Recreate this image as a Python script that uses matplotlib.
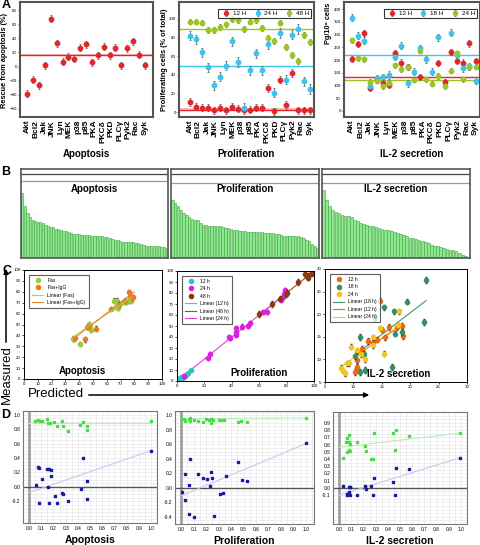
import numpy as np
import matplotlib.pyplot as plt
from matplotlib.patches import FancyArrowPatch

plt.rcParams["font.family"] = ["Liberation Sans", "DejaVu Sans"]

W, H = 481, 545
nan = np.nan

# ---------------- Panel A data ----------------
targets = ["Akt", "Bcl2", "Jak", "JNK", "Lyn", "MEK", "p38", "p85", "PKA",
           "PKCδ", "PKD", "PLCγ", "Pyk2", "Rac", "Syk"]

apop_rescue = [-39, -19, -27, 2, 68, 33, 7, 14, 11, 27, 32, 6, 16, 28, 16, 27, 2, 26, 36, 17, 2]
apop_line = 16

prolif_12h = [11, 6, 5, 5, 2, 5, 2, 6, 4, 2, 3, 5, 5, 26, 1, 35, 8, 42, 2, 2, 2]
prolif_24h = [82, 78, 64, 48, 29, 38, 50, 76, 54, 5, 45, 63, 45, 73, 21, 85, 35, 83, 89, 33, 25]
prolif_48h = [97, 97, 96, 88, 88, 91, 94, 100, 99, 89, 97, 99, 90, 80, 76, 96, 70, 61, 55, 83, 75]
prolif_lines = [3, 50, 89]  # 12 H, 24 H, 48 H

il2_12h = [203, 263, 307, 89, 125, 110, 102, 226, 190, 171, nan, 132, nan, nan, 187, 115, 233, 197, 190, 265, 197]
il2_18h = [367, 295, 276, 98, 128, 132, 141, 213, 256, 108, 154, 246, 203, 154, 289, nan, 307, 218, 167, 176, 118]
il2_24h = [278, 207, 203, 115, 118, 98, 111, 180, 163, 174, 122, 237, 125, 106, 137, 98, 158, 226, 124, 171, 174]
il2_lines = [135, 218, 123]  # 12 H, 18 H, 24 H

# ---------------- Panel B data (sorted bar heights) ----------------
bars_apop = [1.95, 1.55, 1.35, 1.23, 1.15, 1.10, 1.09, 1.07, 1.05, 1.00, 0.95, 0.93, 0.92, 0.88,
             0.87, 0.85, 0.82, 0.80, 0.77, 0.75, 0.73, 0.72, 0.71, 0.70, 0.69, 0.69, 0.68, 0.67,
             0.67, 0.66, 0.66, 0.65, 0.64, 0.63, 0.60, 0.57, 0.55, 0.53, 0.50, 0.48, 0.48, 0.48,
             0.47, 0.47, 0.46, 0.45, 0.43, 0.40, 0.37, 0.37, 0.37, 0.36, 0.35, 0.35, 0.34, 0.32, 0.30]
bars_prolif = [1.75, 1.65, 1.55, 1.45, 1.35, 1.30, 1.23, 1.17, 1.15, 1.15, 1.05, 1.00, 0.98, 0.97,
               0.97, 0.96, 0.95, 0.95, 0.93, 0.90, 0.90, 0.88, 0.85, 0.83, 0.82, 0.80, 0.80, 0.79,
               0.79, 0.78, 0.78, 0.77, 0.77, 0.76, 0.75, 0.75, 0.75, 0.73, 0.73, 0.70, 0.67, 0.67,
               0.65, 0.65, 0.65, 0.65, 0.63, 0.60, 0.55, 0.50, 0.43, 0.37, 0.30]
bars_il2 = [2.05, 1.75, 1.55, 1.45, 1.37, 1.35, 1.30, 1.25, 1.25, 1.23, 1.15, 1.10, 1.05, 1.03,
            1.00, 0.97, 0.95, 0.93, 0.90, 0.87, 0.85, 0.83, 0.80, 0.77, 0.75, 0.73, 0.70, 0.65,
            0.60, 0.59, 0.57, 0.55, 0.50, 0.47, 0.45, 0.40, 0.37, 0.35, 0.33, 0.30, 0.27, 0.25,
            0.23, 0.20, 0.15, 0.10, 0.05, 0.02]

# ---------------- Panel C data (predicted vs measured) ----------------
fas_pred = [36, 35.5, 40.3, 45.6, 47, 47.5, 48.8, 65, 67.4, 66.9, 68.3, 71.7, 73.6, 75, 77.8]
fas_meas = [36.6, 37, 32, 47.7, 50.7, 49, 45, 72, 72, 65.9, 65.3, 70.4, 70.4, 71.3, 72]
fasigg_pred = [36.7, 43.9, 46.4, 52.4, 63.3, 68.8, 76, 77, 78.5, 79, 72.9]
fasigg_meas = [37.8, 36.3, 47.7, 46.2, 64.4, 68.3, 79.5, 76.5, 74.3, 75.5, 72]
fas_fit = ([35, 78], [38, 75])
fasigg_fit = ([36, 80], [37, 80])

p12_pred = [0.5, 1, 1.5, 2, 2.5, 3, 3.5, 4, 5, 6, 7, 8, 10]
p12_meas = [0.5, 1.5, 1, 2.5, 3, 2, 4, 3.5, 4, 5, 6, 7.5, 10]
p24_pred = [5.3, 22.3, 24.3, 37.6, 38.8, 43.2, 43.2, 43.2, 47.3, 51.5, 53.4, 63, 66, 75.7, 77.7, 78.9, 78.4]
p24_meas = [4.5, 21, 24.8, 39.8, 38.9, 44.9, 47.9, 41.9, 49.4, 50, 53, 62.9, 62.9, 74, 76.3, 83, 79.3]
p48_pred = [59.7, 69.2, 75.2, 79.6, 80, 88.6, 93.4, 96.4, 98.3, 99.5, 95.4]
p48_meas = [60.8, 69.8, 74.9, 78.7, 80, 90, 97, 96, 98, 99, 94]
p12_fit = ([0, 10], [0, 10])
p48_fit = ([60, 100], [60, 100])
p24_fit = ([0, 80], [0, 80])

i12_pred = [14.7, 15, 14.2, 15.6, 16.2, 17.6, 18.5, 18.7, 12.6, 13.5, 10.7, 11.5, 10.7, 10.7, 10.2]
i12_meas = [23, 16.6, 14.4, 14.9, 17.2, 17.2, 17.4, 15.1, 14.1, 13.7, 11.7, 12.4, 9.8, 8.3, 7.2]
i18_pred = [22.8, 19.4, 15.3, 17.1, 13.8, 22.5, 17.4, 18.5, 11.2, 10.3, 11.8, 11.1, 12.1, 16.8]
i18_meas = [27.6, 22.8, 21.5, 20.6, 19.2, 18.3, 15.7, 16.1, 15, 10.7, 11.3, 7.2, 7.7, 8.3]
i24_pred = [18.1, 14.6, 17.8, 13.4, 13.4, 9.5, 10.6, 11.3, 12.1, 15.3, 8.8, 9.3, 7.9, 8.2, 8.6]
i24_meas = [20.6, 16.9, 17.6, 14.9, 13.1, 12.8, 12, 11.1, 10, 11.3, 9.1, 9.1, 8.2, 7.4, 6.9]
i18_fit = ([10, 22.8], [10.7, 23])
i12_fit = ([10, 18.5], [10.5, 17.5])
i24_fit = ([8, 17.5], [8.5, 17])

# ---------------- Panel D data ----------------
d1_gx = [0.05, 0.072, 0.088, 0.107, 0.147, 0.152, 0.173, 0.205, 0.232, 0.272, 0.28, 0.317, 0.419, 0.44, 0.472, 0.477, 1.0]
d1_gy = [0.91, 0.925, 0.914, 0.918, 0.933, 0.89, 0.878, 0.894, 0.847, 0.91, 0.84, 0.773, 0.863, 0.898, 0.792, 0.847, 0.918]
d1_bx = [0.053, 0.077, 0.083, 0.104, 0.147, 0.16, 0.179, 0.179, 0.152, 0.08, 0.165, 0.213, 0.232, 0.272, 0.277, 0.317, 0.427, 0.445, 0.472, 0.477, 1.0]
d1_by = [0.02, 0.27, 0.26, 0.114, 0.243, 0.25, 0.24, 0.145, -0.004, -0.22, -0.22, -0.133, -0.23, -0.08, -0.094, -0.196, -0.035, 0.4, -0.17, 0.075, 0.5]
d1_gfit = [0.886, 0.886]
d1_bfit = [-0.08, 0.5]

d2_gx = [0.005, 0.026, 0.032, 0.066, 0.074, 0.074, 0.106, 0.138, 0.172, 0.198, 0.225, 0.238, 0.238, 0.251, 0.304, 0.317, 0.344, 0.458, 0.481, 0.524, 1.0]
d2_gy = [0.955, 0.955, 0.923, 0.955, 0.968, 0.923, 0.932, 0.923, 0.909, 0.95, 0.94, 0.955, 0.895, 0.932, 0.932, 0.932, 0.932, 0.909, 0.923, 0.909, 0.968]
d2_bx = [0.005, 0.032, 0.032, 0.066, 0.074, 0.066, 0.106, 0.138, 0.175, 0.206, 0.238, 0.243, 0.233, 0.265, 0.307, 0.339, 0.357, 0.458, 0.484, 0.524, 1.0]
d2_by = [-0.06, 0.195, -0.168, 0.045, 0.395, -0.364, -0.41, 0.195, 0.132, 0.123, 0.223, 0.132, 0.023, -0.386, -0.09, -0.077, 0.168, 0.359, 0.114, 0.095, 0.614]
d2_gfit = [0.955, 0.965]
d2_bfit = [-0.11, 0.61]

d3_gx = [0.034, 0.053, 0.061, 0.061, 0.08, 0.08, 0.088, 0.08, 0.093, 0.146, 0.212, 0.22, 0.265, 0.279, 0.284, 0.443, 0.464, 0.459, 0.57, 0.995]
d3_gy = [0.41, 0.64, 0.69, 0.5, 0.73, 0.63, 0.61, 0.53, 0.515, 0.635, 0.573, 0.51, 0.40, 0.40, 0.754, 0.761, 0.8, 0.526, 0.72, 0.765]
d3_bx = [0.034, 0.061, 0.066, 0.08, 0.088, 0.093, 0.085, 0.088, 0.146, 0.212, 0.22, 0.265, 0.284, 0.279, 0.443, 0.464, 0.459, 0.57, 0.995]
d3_by = [0.027, -0.082, -0.1, 0.014, 0.014, 0.014, -0.055, -0.1, -0.1, 0.027, -0.014, 0.027, 0.13, -0.1, 0.082, 0.276, -0.1, 0.266, 0.42]
d3_gfit = [0.56, 0.76]
d3_bfit = [-0.1, 0.42]

RED = "#e3262b"
CYAN = "#3cc3ee"
OLIVE = "#9cc423"


def box(l, t, r, b):
    # pixel box (left, top, right, bottom) -> figure fraction
    return [l / W, 1 - b / H, (r - l) / W, (b - t) / H]


def fxy(px, py):
    return (px / W, 1 - py / H)


fig = plt.figure(figsize=(W / 100, H / 100), dpi=100)


# %% Panel A
def style_a(ax, xlim, ylim, yticks):
    ax.set_xlim(*xlim)
    ax.set_ylim(*ylim)
    ax.set_yticks(yticks)
    ax.set_xticks(np.linspace(0, 20, len(targets)))
    ax.set_xticklabels(targets, rotation=90, fontsize=6, fontweight="bold")
    ax.tick_params(axis="y", labelsize=3.2, length=1.5, width=0.5, pad=0.8)
    ax.tick_params(axis="x", length=0, pad=2)
    for s in ax.spines.values():
        s.set_color("#555555")
        s.set_linewidth(1.5)


def points(ax, y, color, label=None, err=5):
    x = np.arange(len(y))
    ax.errorbar(x, y, yerr=err, fmt="o", ms=3.2, color=color, ecolor="#666666",
                elinewidth=0.6, capsize=1.0, capthick=0.6, label=label)


def a_legend(ax):
    leg = ax.legend(loc="upper right", ncol=3, fontsize=4.5, frameon=True, edgecolor="black",
                    fancybox=False, handletextpad=0.1, columnspacing=0.8, borderpad=0.3,
                    markerscale=0.9, bbox_to_anchor=(1.0, 0.97))
    leg.get_frame().set_linewidth(0.8)


ax = fig.add_axes(box(20, 2, 153, 117))
ax.axhspan(apop_line - 1.5, apop_line + 1.5, color="#f6c0c0", lw=0)
ax.axhline(apop_line, color=RED, lw=1)
points(ax, apop_rescue, RED)
style_a(ax, (-1.25, 21.4), (-72, 92), range(-60, 81, 20))

ax = fig.add_axes(box(179, 2, 314, 117))
ax.axhspan(prolif_lines[0] - 1.5, prolif_lines[0] + 1.5, color="#f6c0c0", lw=0)
for v, c in zip(prolif_lines, [RED, CYAN, OLIVE]):
    ax.axhline(v, color=c, lw=1)
points(ax, prolif_12h, RED, "12 H", 4)
points(ax, prolif_24h, CYAN, "24 H", 5)
points(ax, prolif_48h, OLIVE, "48 H", 3)
style_a(ax, (-1.8, 20.7), (-5, 118), range(0, 101, 20))
a_legend(ax)

ax = fig.add_axes(box(344, 2, 480, 117))
for v, c in zip(il2_lines, [RED, CYAN, OLIVE]):
    ax.axhline(v, color=c, lw=1)
points(ax, il2_12h, RED, "12 H", 12)
points(ax, il2_18h, CYAN, "18 H", 14)
points(ax, il2_24h, OLIVE, "24 H", 10)
style_a(ax, (-1.25, 20.7), (-24, 428), range(0, 401, 50))
a_legend(ax)

fig.text(*fxy(4.5, 60), "Rescue from apoptosis (%)", rotation=90, ha="center", va="center",
         fontsize=5.3, fontweight="bold")
fig.text(*fxy(164.5, 60), "Proliferating cells (% of total)", rotation=90, ha="center", va="center",
         fontsize=5.3, fontweight="bold")
fig.text(*fxy(329, 23), "Pg/10⁶ cells", rotation=90, ha="center", va="center",
         fontsize=5.3, fontweight="bold")
for xp, t in [(86, "Apoptosis"), (246, "Proliferation"), (412, "IL-2 secretion")]:
    fig.text(*fxy(xp, 154), t, ha="center", va="center", fontsize=7, fontweight="bold")

# %% Panel B
for (l, r), vals, title, y2 in [((21, 168), bars_apop, "Apoptosis", 0.861),
                                ((171, 319), bars_prolif, "Proliferation", 0.843),
                                ((322, 470), bars_il2, "IL-2 secretion", 0.843)]:
    ax = fig.add_axes(box(l, 169, r, 258))
    ax.bar(np.arange(len(vals)), vals, width=0.85, color="#8fe88f", edgecolor="#3aa53a", linewidth=0.4)
    ax.set_xlim(-0.5, len(vals) - 0.5)
    ax.set_ylim(0, 2.67)
    ax.set_xticks([])
    ax.set_yticks([])
    ax.plot([0, 1], [0.948, 0.948], transform=ax.transAxes, color="#444444", lw=0.9)
    ax.plot([0, 1], [y2, y2], transform=ax.transAxes, color="#999999", lw=0.9)
    ax.text(0.5, 0.775, title, transform=ax.transAxes, ha="center", va="center",
            fontsize=7, fontweight="bold")
    for s in ax.spines.values():
        s.set_color("#555555")
        s.set_linewidth(1.2)


# %% Panel C
def style_c(ax, xlim, ylim, xticks, yticks, title, tx):
    ax.set_xlim(*xlim)
    ax.set_ylim(*ylim)
    ax.set_xticks(xticks)
    ax.set_yticks(yticks)
    ax.tick_params(labelsize=3.2, length=1.5, width=0.5, pad=1)
    for s in ax.spines.values():
        s.set_linewidth(0.7)
    ax.text(tx, 0.07, title, transform=ax.transAxes, ha="center", va="center",
            fontsize=7, fontweight="bold")


def scat(ax, x, y, color, label, err):
    ax.errorbar(x, y, yerr=err, fmt="none", ecolor="#333333", elinewidth=0.5, capsize=0.8)
    h, = ax.plot(x, y, "o", ms=3, color=color, label=label, lw=0)
    return h


def c_legend(ax, handles):
    leg = ax.legend(handles=handles, loc="upper left", fontsize=3.6, frameon=True,
                    edgecolor="#333333", fancybox=False, handlelength=2.2, borderpad=0.6,
                    labelspacing=0.5, bbox_to_anchor=(0.02, 0.98))
    leg.get_frame().set_linewidth(0.8)


ax = fig.add_axes(box(24, 270, 162, 379))
h1 = scat(ax, fas_pred, fas_meas, "#9acd32", "Fas", 2)
h2 = scat(ax, fasigg_pred, fasigg_meas, "#f07a22", "Fas+IgG", 2)
l1, = ax.plot(*fas_fit, color="#a8d060", lw=0.8, label="Linear (Fas)")
l2, = ax.plot(*fasigg_fit, color="#f08030", lw=0.8, label="Linear (Fas+IgG)")
c_legend(ax, [h1, h2, l1, l2])
style_c(ax, (0, 100), (0, 100), range(0, 101, 10), range(0, 101, 10), "Apoptosis", 0.42)

ax = fig.add_axes(box(177, 271, 314, 381))
l12, = ax.plot(*p12_fit, color="#40c8d0", lw=0.8, label="Linear (12 h)")
l48, = ax.plot(*p48_fit, color="#a0501a", lw=0.8, label="Linear (48 h)")
l24, = ax.plot(*p24_fit, color="#e040e0", lw=0.8, label="Linear (24 h)")
h12 = scat(ax, p12_pred, p12_meas, "#30c0c8", "12 h", 1)
h24 = scat(ax, p24_pred, p24_meas, "#e020e0", "24 h", 2)
h48 = scat(ax, p48_pred, p48_meas, "#8b3a10", "48 h", 2.5)
c_legend(ax, [h12, h24, h48, l12, l48, l24])
style_c(ax, (0, 100), (0, 100), range(0, 101, 20), range(0, 101, 10), "Proliferation", 0.6)

ax = fig.add_axes(box(325, 269, 467, 382))
k18, = ax.plot(*i18_fit, color="#3a9a6a", lw=0.8, label="Linear (18 h)")
k12, = ax.plot(*i12_fit, color="#ee6a10", lw=0.8, label="Linear (12 h)")
k24, = ax.plot(*i24_fit, color="#f5c518", lw=0.8, label="Linear (24 h)")
g12 = scat(ax, i12_pred, i12_meas, "#ee6a10", "12 h", 0.6)
g18 = scat(ax, i18_pred, i18_meas, "#3a8f62", "18 h", 0.6)
g24 = scat(ax, i24_pred, i24_meas, "#f5c518", "24 h", 0.5)
c_legend(ax, [g12, g18, g24, k18, k12, k24])
style_c(ax, (5, 30), (5, 30), range(5, 31, 5), range(5, 31, 5), "IL-2 secretion", 0.52)

fig.text(*fxy(7, 375), "Measured", rotation=90, ha="center", va="center", fontsize=9.5)
fig.text(*fxy(56, 394), "Predicted", ha="center", va="center", fontsize=9.5)
fig.add_artist(FancyArrowPatch(fxy(6, 345), fxy(6, 266), transform=fig.transFigure,
                               arrowstyle="-|>", mutation_scale=7, lw=1.1, color="black"))
fig.add_artist(FancyArrowPatch(fxy(86, 395), fxy(372, 395), transform=fig.transFigure,
                               arrowstyle="-|>", mutation_scale=7, lw=1.1, color="black"))


# %% Panel D
def panel_d(rect, gx, gy, bx, by, gfit, bfit, xlim, ylim, yticks, title):
    ax = fig.add_axes(rect)
    ax.set_xlim(*xlim)
    ax.set_ylim(*ylim)
    ax.set_xticks(np.arange(0, 1.01, 0.1))
    ax.set_yticks(yticks)
    ax.xaxis.set_major_formatter(plt.FormatStrFormatter("%.1f"))
    ax.yaxis.set_major_formatter(plt.FormatStrFormatter("%.1f"))
    ax.set_xticks(np.arange(-0.05, 1.06, 0.05), minor=True)
    ax.set_yticks(np.arange(-0.5, 1.06, 0.05), minor=True)
    ax.grid(which="both", color="#e4e4e4", lw=0.4)
    ax.set_axisbelow(True)
    ax.tick_params(which="both", labelsize=3.5, length=0, pad=2)
    ax.axvline(0, color="#a0a0a0", lw=2)
    ax.axhline(0, color="#555555", lw=1)
    ax.plot([0, 1], gfit, color="#b8f0b8", lw=0.8)
    ax.plot([0, 1], bfit, color="#c8c8f0", lw=0.8)
    ax.plot(gx, gy, "s", ms=1.4, color="#44dd44")
    ax.plot(bx, by, "s", ms=1.7, color="#1a1aa0")
    for s in ax.spines.values():
        s.set_color("#777777")
        s.set_linewidth(0.8)
    ax.set_xlabel(title, fontsize=7.5, fontweight="bold", labelpad=3)


panel_d(box(23, 411, 157, 523), d1_gx, d1_gy, d1_bx, d1_by, d1_gfit, d1_bfit,
        (-0.038, 1.034), (-0.3, 1.02), np.arange(-0.2, 1.01, 0.2), "Apoptosis")
panel_d(box(175, 411, 314, 524), d2_gx, d2_gy, d2_bx, d2_by, d2_gfit, d2_bfit,
        (-0.04, 1.065), (-0.49, 1.06), np.arange(-0.4, 1.01, 0.2), "Proliferation")
panel_d(box(333, 412, 467, 524), d3_gx, d3_gy, d3_bx, d3_by, d3_gfit, d3_bfit,
        (-0.013, 1.048), (-0.157, 0.99), np.arange(-0.1, 0.91, 0.1), "IL-2 secretion")

# panel letters
for xp, yp, t in [(6, 5, "A"), (6, 172, "B"), (7, 271, "C"), (6, 415, "D")]:
    fig.text(*fxy(xp, yp), t, ha="center", va="center", fontsize=9, fontweight="bold")

plt.savefig("out.png", dpi=100)
